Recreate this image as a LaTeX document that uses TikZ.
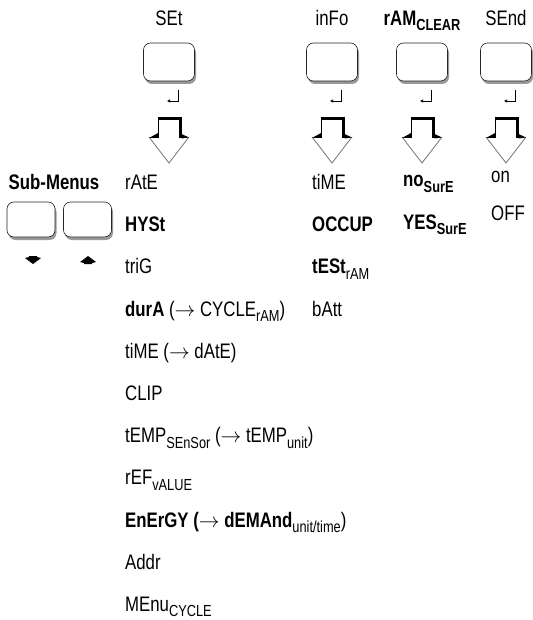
\documentclass[tikz,border=0pt]{standalone}
\usepackage{fontspec}
\setmainfont{Liberation Sans}[FakeStretch=0.8]
\usepackage{tikz}
\usetikzlibrary{arrows.meta,shadows}
\newcommand{\sbs}[1]{\raisebox{-0.26em}{\fontsize{16}{16}\selectfont #1}}
\newcommand{\toarr}{\ensuremath{\rightarrow}}

\tikzset{
  key/.style={draw=black!85, line width=0.6pt, rounded corners=7pt, fill=white,
    minimum width=51pt, minimum height=38pt,
    drop shadow={shadow xshift=1.5pt, shadow yshift=-3pt, fill=black!40, opacity=1}},
  smallkey/.style={key, minimum width=48pt, minimum height=35pt},
  lbl/.style={inner sep=0pt, font=\fontsize{21}{21}\selectfont},
  title/.style={lbl, anchor=base},
  entry/.style={lbl, anchor=base west},
  enter/.style={line width=0.8pt, -{Latex[length=3pt,width=3.5pt]}},
  pics/pulsearrow/.style={code={
    \draw[black!55, line width=0.8pt, line join=miter] (-20,20) -- (0,46) -- (20,20);
    \draw[line width=1pt] (-11,21) -- (-11,0.5);
    \draw[line width=3pt, line join=miter] (-11.5,1.5) -- (11,1.5) -- (11,21);
    \fill (-20,21) -- (-11,16) -- (-11,21) -- cycle;
    \fill (12.5,17) -- (20,20.5) -- (12.5,21.5) -- cycle;
  }}
}

\begin{document}
\begin{tikzpicture}[x=1pt,y=-1pt]
  \useasboundingbox (0,0) rectangle (532,620);
  % function keys
  \node[title] (settitle) at (169,25.5) {SEt};
  \node[key] (setkey) at (169,62) {};
  \draw[enter] (178,90) -- (178,101) -- (167,101);
  \pic at (169,117) {pulsearrow};
  \node[title] (infotitle) at (332,25.5) {inFo};
  \node[key] (infokey) at (332,62) {};
  \draw[enter] (341,90) -- (341,101) -- (330,101);
  \pic at (332,117) {pulsearrow};
  \node[title] (ramtitle) at (422,25.5) {\textbf{rAM\sbs{CLEAR}}};
  \node[key] (ramkey) at (422,62) {};
  \draw[enter] (431,90) -- (431,101) -- (420,101);
  \pic at (422,117) {pulsearrow};
  \node[title] (sendtitle) at (506,25.5) {SEnd};
  \node[key] (sendkey) at (506,62) {};
  \draw[enter] (515,90) -- (515,101) -- (504,101);
  \pic at (506,117) {pulsearrow};
  % sub-menu keys
  \node[title] (subtitle) at (54,189.5) {\textbf{Sub-Menus}};
  \node[smallkey] (downkey) at (31,219.5) {};
  \node[smallkey] (upkey) at (87.5,219.5) {};
  \fill (29,256) -- (37,256) -- (37,257) -- (41,258) -- (33,264) -- (25,258) -- (29,257) -- cycle;
  \fill (84,264) -- (92,264) -- (92,263) -- (96,262) -- (88,256) -- (80,262) -- (84,263) -- cycle;
  % SEt entries
  \node[entry] (rate) at (125,189.5) {rAtE};
  \node[entry] (hyst) at (125,231.7) {\textbf{HYSt}};
  \node[entry] (trig) at (125,273.9) {triG};
  \node[entry] (dura) at (125,316.1) {\textbf{durA} (\toarr{} CYCLE\sbs{rAM})};
  \node[entry] (time) at (125,358.3) {tiME (\toarr{} dAtE)};
  \node[entry] (clip) at (125,400.5) {CLIP};
  \node[entry] (temp) at (125,442.7) {tEMP\sbs{SEnSor} (\toarr{} tEMP\sbs{unit})};
  \node[entry] (ref) at (125,484.9) {rEF\sbs{vALUE}};
  \node[entry] (energy) at (125,527.1) {\textbf{EnErGY (\toarr{} dEMAnd}\sbs{unit/time})};
  \node[entry] (addr) at (125,569.3) {Addr};
  \node[entry] (menu) at (125,611.5) {MEnu\sbs{CYCLE}};
  % inFo entries
  \node[entry] (infotime) at (312,189.5) {tiME};
  \node[entry] (occup) at (312,231.7) {\textbf{OCCUP}};
  \node[entry] (test) at (312,273.9) {\textbf{tESt}\sbs{rAM}};
  \node[entry] (batt) at (312,316.1) {bAtt};
  % rAM entries
  \node[entry] (nosure) at (403,187) {\textbf{no\sbs{SurE}}};
  \node[entry] (yessure) at (403,229.5) {\textbf{YES\sbs{SurE}}};
  % SEnd entries
  \node[entry] (on) at (491,183) {on};
  \node[entry] (off) at (491,221) {OFF};
\end{tikzpicture}
\end{document}
